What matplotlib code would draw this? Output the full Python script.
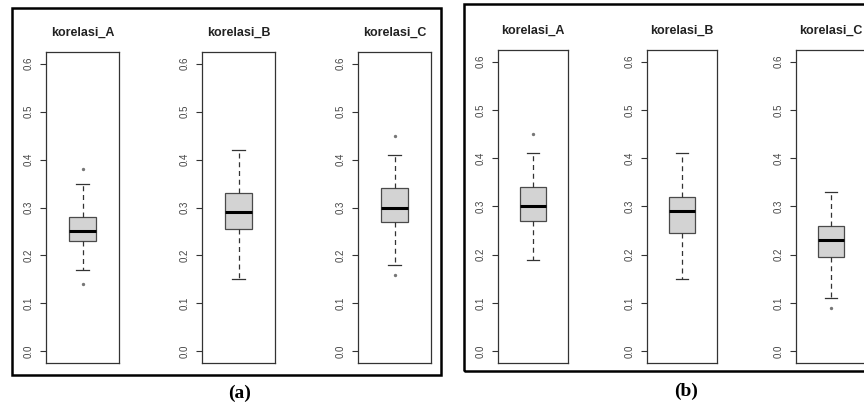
import matplotlib
matplotlib.use("Agg")
import matplotlib.pyplot as plt
from matplotlib.patches import Rectangle

categories = ["korelasi_A", "korelasi_B", "korelasi_C"]
yticks = [0.0, 0.1, 0.2, 0.3, 0.4, 0.5, 0.6]
panel_labels = ["(a)", "(b)"]

# panel (a)
a_whislo = [0.17, 0.15, 0.18]
a_q1 = [0.23, 0.255, 0.27]
a_med = [0.25, 0.29, 0.30]
a_q3 = [0.28, 0.33, 0.34]
a_whishi = [0.35, 0.42, 0.41]
a_fliers = [[0.38, 0.14], [], [0.45, 0.16]]

# panel (b)
b_whislo = [0.19, 0.15, 0.11]
b_q1 = [0.27, 0.245, 0.195]
b_med = [0.30, 0.29, 0.23]
b_q3 = [0.34, 0.32, 0.26]
b_whishi = [0.41, 0.41, 0.33]
b_fliers = [[0.45], [], [0.09]]

W, H = 864, 408
fig = plt.figure(figsize=(W / 100, H / 100), dpi=100)
plt.rcParams['font.family'] = ['Liberation Sans', 'DejaVu Sans']

def px_axes(x0, x1, y0, y1):
    return fig.add_axes([x0 / W, 1 - y1 / H, (x1 - x0) / W, (y1 - y0) / H])

def draw_box(ax, title, lo, q1, med, q3, hi, fl):
    stats = [dict(whislo=lo, q1=q1, med=med, q3=q3, whishi=hi, fliers=fl)]
    ax.bxp(stats, positions=[1], widths=0.4, patch_artist=True,
           boxprops=dict(facecolor='#d3d3d3', edgecolor='#4a4a4a', linewidth=0.9),
           medianprops=dict(color='black', linewidth=2.2, solid_capstyle='butt'),
           whiskerprops=dict(color='#333333', linewidth=0.9, linestyle=(0, (4, 3))),
           capprops=dict(color='#333333', linewidth=0.9),
           capwidths=0.2,
           flierprops=dict(marker='o', markersize=1.4, markerfacecolor='#777777',
                           markeredgecolor='#777777', linestyle='none'))
    ax.set_xlim(0.46, 1.54)
    ax.set_ylim(-0.024, 0.624)
    ax.set_xticks([])
    ax.set_yticks(yticks)
    ax.set_yticklabels([f"{t:.1f}" for t in yticks], rotation=90, va='center',
                       fontsize=7, color='#444444')
    ax.tick_params(axis='y', length=4.3, width=0.8, color='#333333', pad=4.5)
    for s in ax.spines.values():
        s.set_color('#333333')
        s.set_linewidth(0.9)
    ax.set_title(title, fontsize=9, fontweight='bold', color='#222222', pad=12)

# panel (a) axes
a_lefts = [46, 202, 358]
for i, cat in enumerate(categories):
    ax = px_axes(a_lefts[i], a_lefts[i] + 73, 52, 363)
    draw_box(ax, cat, a_whislo[i], a_q1[i], a_med[i], a_q3[i], a_whishi[i], a_fliers[i])

# panel (b) axes
b_lefts = [498, 647, 796]
for i, cat in enumerate(categories):
    ax = px_axes(b_lefts[i], b_lefts[i] + 70, 50, 363)
    draw_box(ax, cat, b_whislo[i], b_q1[i], b_med[i], b_q3[i], b_whishi[i], b_fliers[i])

# outer frames
fig.patches.append(Rectangle((12 / W, 1 - 375 / H), (441 - 12) / W, (375 - 8) / H,
                             transform=fig.transFigure, fill=False, edgecolor='black',
                             linewidth=1.8))
fig.patches.append(Rectangle((464 / W, 1 - 371 / H), (920 - 464) / W, (371 - 4) / H,
                             transform=fig.transFigure, fill=False, edgecolor='black',
                             linewidth=1.8))

fig.text(240 / W, 1 - 393 / H, panel_labels[0], ha='center', va='center',
         fontsize=14, fontweight='bold', family='Liberation Serif')
fig.text(686 / W, 1 - 391 / H, panel_labels[1], ha='center', va='center',
         fontsize=14, fontweight='bold', family='Liberation Serif')

fig.savefig("out.png", dpi=100)
